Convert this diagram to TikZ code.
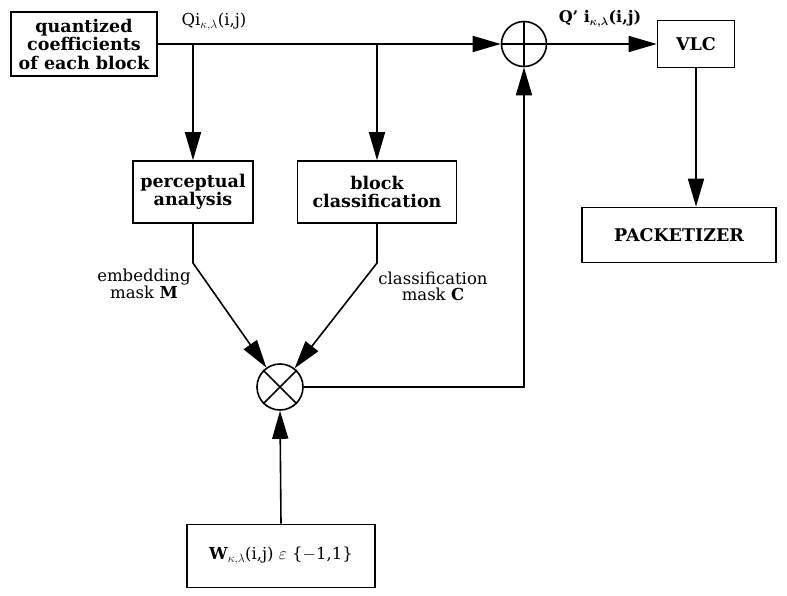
\documentclass[tikz,border=0pt]{standalone}
\usepackage{fontspec}
\usepackage{amsmath}
\setmainfont{DejaVu Serif}
\usetikzlibrary{arrows.meta,positioning}
\tikzset{
	box/.style={draw,rectangle,align=center,inner sep=0pt,font=\bfseries\fontsize{17.5}{18.5}\selectfont},
	op/.style={draw,circle,minimum size=45pt,inner sep=0pt},
	lbl/.style={align=center,inner sep=0pt,font=\fontsize{16.5}{16}\selectfont},
	>={Triangle[length=28pt,width=16pt]}
}

\begin{document}
\begin{tikzpicture}[x=1pt,y=-1pt,line width=1.6pt]
            \useasboundingbox (0,0) rectangle (787,596);
            \node[box,minimum width=146pt,minimum height=64pt] (qc) at (84,44) {quantized\\coefficients\\of each block};
            \node[op] (add) at (524,44) {};
            \node[box,minimum width=77pt,minimum height=47pt] (vlc) at (696,44) {VLC};
            \node[box,minimum width=194pt,minimum height=55pt] (pkt) at (679,235) {PACKETIZER};
            \node[box,minimum width=120pt,minimum height=62pt] (pa) at (193,192) {perceptual\\analysis};
            \node[box,minimum width=159pt,minimum height=62pt] (bc) at (377,192) {block\\classification};
            \node[op,minimum size=46pt] (mul) at (280,387) {};
            \node[box,font=\fontsize{16.5}{18}\selectfont,minimum width=188pt,minimum height=63pt] (wm) at (281,556) {$\mathbf{W}_{\kappa,\lambda}$(i,j) $\varepsilon$ \{$-$1,1\}};
            \node[lbl] (qlab) at (214,22) {Qi$_{\kappa,\lambda}$(i,j)};
            \node[lbl,font=\bfseries\boldmath\fontsize{16}{16}\selectfont] (qplab) at (600,19) {Q' i$_{\kappa,\lambda}$(i,j)};
            \node[lbl] (mlab) at (144,284) {embedding\\mask \textbf{M}};
            \node[lbl] (clab) at (433,286) {classification\\mask \textbf{C}};
            \coordinate (pb) at (193,263);
            \coordinate (bb) at (377,263);
            % operator symbols
            \draw (add.north) -- (add.south) (add.west) -- (add.east);
            \draw (mul.north west) -- (mul.south east) (mul.north east) -- (mul.south west);
            % signal flow
            \draw[->] (qc.east) -- (add.west);
            \draw[->] (pa.north |- qc.east) -- (pa.north);
            \draw[->] (bc.north |- qc.east) -- (bc.north);
            \draw[->] (add.east) -- (vlc.west);
            \draw[->] (vlc.south) -- (vlc.south |- pkt.north);
            \draw[->] (pa.south) -- (pb) -- (mul);
            \draw[->] (bc.south) -- (bb) -- (mul);
            \draw[->] (wm.north) -- (mul.south);
            \draw[->] (mul.east) -| (add.south);
        \end{tikzpicture}
\end{document}
